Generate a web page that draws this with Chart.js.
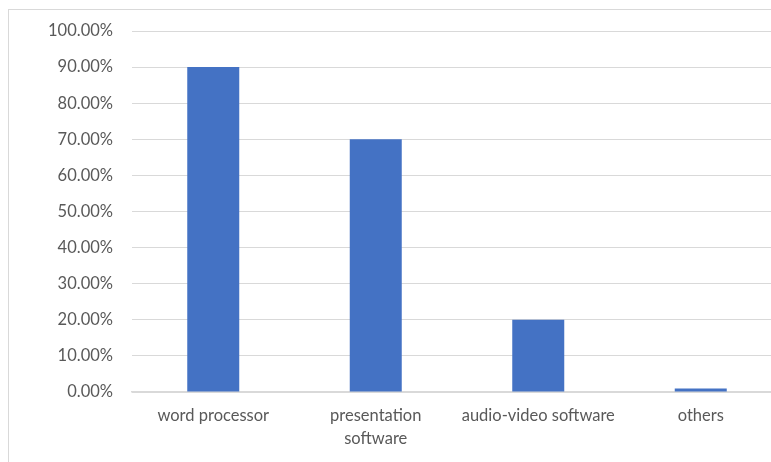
<!DOCTYPE html>
<html>
<head>
<meta charset="utf-8">
<script src="https://cdn.jsdelivr.net/npm/chart.js@4"></script>
<style>
  html, body { margin: 0; padding: 0; background: #fff; overflow: hidden; width: 771px; height: 462px; }
  #frame { position: absolute; left: 8px; top: 9px; width: 800px; height: 480px; border: 1px solid #d9d9d9; }
  #wrap { position: absolute; left: 0; top: 0; width: 800px; height: 462px; }
</style>
</head>
<body>
<div id="frame"></div>
<div id="wrap"><canvas id="chart"></canvas></div>
<script>
const categories = ["word processor", ["presentation", "software"], "audio-video software", "others"];
const shares = [90, 70, 20, 1];
const yTicks = [0, 10, 20, 30, 40, 50, 60, 70, 80, 90, 100];

const ctx = document.getElementById("chart").getContext("2d");

Chart.defaults.font.family = "Lato, 'Open Sans', sans-serif";
Chart.defaults.font.size = 16.5;
Chart.defaults.color = "#595959";

new Chart(ctx, {
  type: "bar",
  data: {
    labels: categories,
    datasets: [
      {
        data: shares,
        backgroundColor: "#4472c4",
        borderWidth: 0,
        barPercentage: 1,
        categoryPercentage: 0.32,
      },
    ],
  },
  options: {
    responsive: true,
    maintainAspectRatio: false,
    animation: false,
    layout: { padding: { top: 31, right: 18, bottom: 10, left: 0 } },
    plugins: {
      legend: { display: false },
      tooltip: { enabled: false },
    },
    scales: {
      x: {
        grid: { display: false, drawTicks: false },
        border: { display: true, color: "#d9d9d9", width: 1.5 },
        ticks: { padding: 13, maxRotation: 0, autoSkip: false, font: { lineHeight: 1.35 } },
        afterFit: (scale) => { scale.height = 60; },
      },
      y: {
        min: 0,
        max: 100,
        afterBuildTicks: (scale) => { scale.ticks = yTicks.map((v) => ({ value: v })); },
        grid: { color: "#d9d9d9", drawTicks: false },
        border: { display: false },
        ticks: {
          padding: 19,
          callback: (v) => v.toFixed(2) + "%",
        },
        afterFit: (scale) => { scale.width = 132; },
      },
    },
  },
});
</script>
</body>
</html>
